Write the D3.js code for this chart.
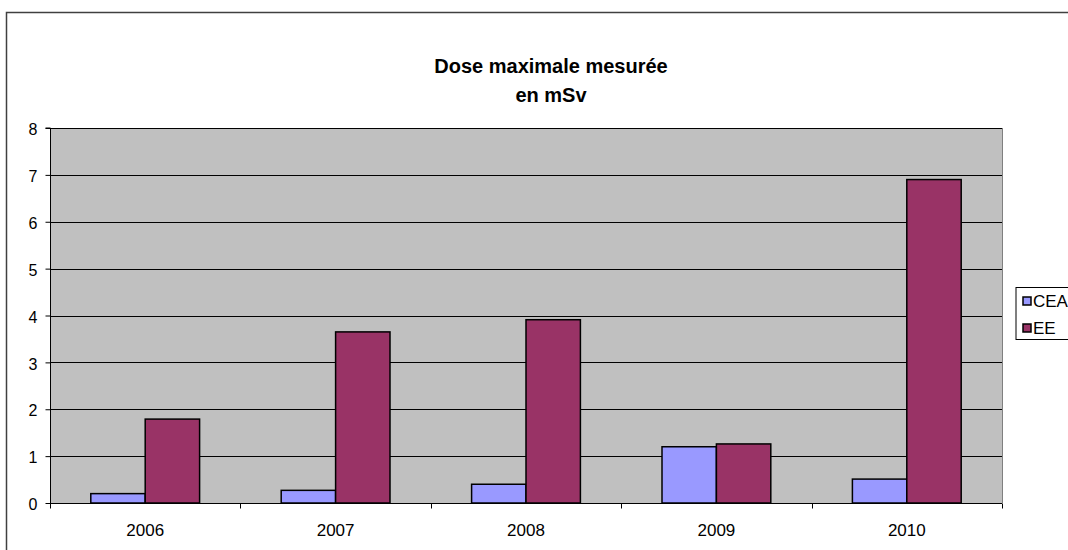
<!DOCTYPE html>
<html><head><meta charset="utf-8">
<script src="https://cdn.jsdelivr.net/npm/d3@7"></script>
<style>body{margin:0;background:#fff}svg{display:block;font-family:"Liberation Sans",Arial,sans-serif}</style>
</head><body><svg id="c" width="1068" height="550"></svg>
<script>
const years = ["2006","2007","2008","2009","2010"];
const seriesNames = ["CEA","EE"];
const ceaValues = [0.2, 0.27, 0.4, 1.2, 0.51];
const eeValues = [1.79, 3.65, 3.91, 1.26, 6.9];
const yTicks = [0,1,2,3,4,5,6,7,8];
const colors = ["#9999FF","#993366"];
const titleLines = ["Dose maximale mesurée","en mSv"];

const svg = d3.select("#c");
const L=50, R=1002, T=128, B=503;
svg.append("path").attr("d","M6.5,550 L6.5,12.5 L1068,12.5").attr("fill","none").attr("stroke","#404040").attr("stroke-width",1.5);

const x = d3.scaleBand().domain(years).range([L,R]).paddingInner(0).paddingOuter(0);
const y = d3.scaleLinear().domain([0,8]).range([B,T]);
const groupW = x.bandwidth();
const barW = groupW/3.5;
const xs = d3.scaleBand().domain(seriesNames).range([(groupW-2*barW)/2,(groupW+2*barW)/2]);

svg.append("rect").attr("x",L).attr("y",T).attr("width",R-L).attr("height",B-T).attr("fill","#C0C0C0");
svg.append("g").selectAll("line").data(yTicks.slice(1)).join("line")
  .attr("x1",L).attr("x2",R).attr("y1",d=>Math.round(y(d))+0.5).attr("y2",d=>Math.round(y(d))+0.5)
  .attr("stroke","#000").attr("stroke-width",1);
svg.append("line").attr("x1",R+0.5).attr("x2",R+0.5).attr("y1",T).attr("y2",B).attr("stroke","#808080");

const data = years.map((yr,i)=>({yr, vals:[ceaValues[i], eeValues[i]]}));
const g = svg.append("g").selectAll("g").data(data).join("g").attr("transform",d=>`translate(${x(d.yr)},0)`);
g.selectAll("rect").data(d=>d.vals.map((v,j)=>({v,s:seriesNames[j],c:colors[j]}))).join("rect")
  .attr("x",d=>xs(d.s)).attr("width",xs.bandwidth())
  .attr("y",d=>y(d.v)).attr("height",d=>B-y(d.v))
  .attr("fill",d=>d.c).attr("stroke","#000").attr("stroke-width",1.5);

const ya = svg.append("g").attr("transform",`translate(${L+0.5},0)`)
  .call(d3.axisLeft(y).tickValues(yTicks).tickSize(5).tickPadding(8).tickFormat(d3.format("d")));
ya.attr("font-size",16).attr("font-family","Liberation Sans, Arial");
ya.selectAll("text").attr("fill","#000").attr("dy","0.42em");
ya.selectAll("line,path").attr("stroke","#000");
ya.select(".domain").attr("d",`M-5,${T}H0V${B}`);

const xa = svg.append("g").attr("transform",`translate(0,${B+0.5})`);
xa.append("line").attr("x1",L).attr("x2",R).attr("stroke","#000");
xa.selectAll(".tk").data(years.concat(["end"])).join("line")
  .attr("x1",(d,i)=>Math.round(L+i*groupW)+0.5).attr("x2",(d,i)=>Math.round(L+i*groupW)+0.5)
  .attr("y1",0).attr("y2",5).attr("stroke","#000");
xa.selectAll("text").data(years).join("text")
  .attr("x",d=>x(d)+groupW/2).attr("y",32).attr("text-anchor","middle")
  .attr("font-size",17).attr("fill","#000").text(d=>d);

svg.append("g").selectAll("text").data(titleLines).join("text")
  .attr("x",551).attr("y",(d,i)=>73+i*29).attr("text-anchor","middle")
  .attr("font-size",20).attr("font-weight","bold").text(d=>d);

const lg = svg.append("g");
lg.append("rect").attr("x",1016).attr("y",287.5).attr("width",60).attr("height",52).attr("fill","#fff").attr("stroke","#000");
const li = lg.selectAll("g").data(seriesNames).join("g").attr("transform",(d,i)=>`translate(1023,${297+i*27})`);
li.append("rect").attr("width",8).attr("height",8).attr("fill",(d,i)=>colors[i]).attr("stroke","#000").attr("stroke-width",1.5);
li.append("text").attr("x",10).attr("y",9.5).attr("font-size",17).text(d=>d);
</script></body></html>
